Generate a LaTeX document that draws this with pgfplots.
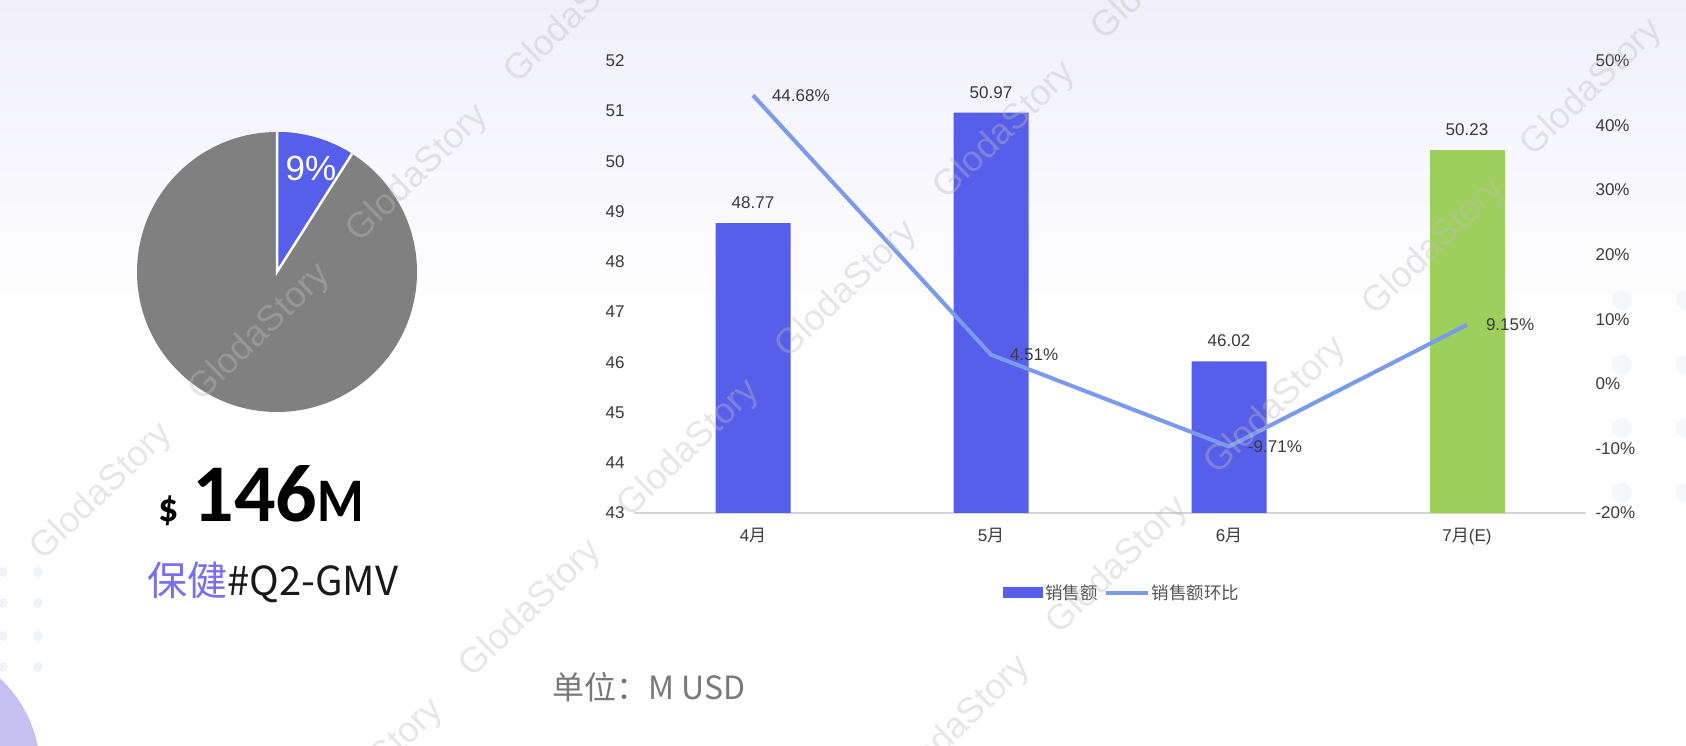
\documentclass[border=0pt]{standalone}
\usepackage{pgfplots}
\usepackage{pgfplotstable}
\pgfplotsset{compat=1.18}
\usepackage{fontspec}
\setmainfont{Liberation Sans}
\newfontfamily\cjk{Noto Sans CJK SC}
\newfontfamily\carlito{Carlito}
\definecolor{barblue}{RGB}{86,94,234}
\definecolor{bargreen}{RGB}{158,206,92}
\definecolor{lineblue}{RGB}{122,154,236}
\definecolor{piegray}{RGB}{128,128,128}
\definecolor{txt}{RGB}{58,58,58}
\definecolor{legtxt}{RGB}{85,85,85}
\definecolor{axisgray}{RGB}{212,212,212}
\definecolor{lav}{RGB}{240,239,251}
\definecolor{circpurple}{RGB}{198,192,240}
\definecolor{dotl}{RGB}{241,241,250}
\definecolor{dotr}{RGB}{245,247,251}
\definecolor{purpletxt}{RGB}{120,110,240}
\definecolor{unitgray}{RGB}{120,120,120}
\definecolor{wm}{RGB}{190,190,190}

\pgfplotstableread{
x y
0 48.77
1 50.97
2 46.02
}\salesA
\pgfplotstableread{
x y
3 50.23
}\salesE
\pgfplotstableread{
x y
0 44.68
1 4.51
2 -9.71
3 9.15
}\mom
\def\pieshare{9}

\begin{document}
\begin{tikzpicture}[x=1pt,y=1pt]
\path[use as bounding box] (0,0) rectangle (1686,746);
\begin{scope}
\clip (0,0) rectangle (1686,746);
\fill[white] (0,0) rectangle (1686,746);
\shade[top color=lav, bottom color=white] (0,420) rectangle (1686,746);
\fill[circpurple] (-85,-24) circle (125);
\foreach \yy in {174,143,110,79} {
  \fill[dotl] (3,\yy) circle (5);
  \fill[dotl] (38,\yy) circle (5);
}
\foreach \yy in {446,381,318,253} {
  \fill[dotr] (1622,\yy) circle (10);
  \fill[dotr] (1686,\yy) circle (10);
}
\end{scope}

% pie
\pgfmathsetmacro\endang{90-3.6*\pieshare}
\begin{axis}[at={(277pt,474pt)}, anchor=center, scale only axis,
  width=280pt, height=280pt, xmin=-1, xmax=1, ymin=-1, ymax=1,
  hide axis, clip=false]
\fill[piegray] (axis cs:0,0) circle[radius=1];
\fill[barblue] (axis cs:0,0) -- (axis cs:0,1) arc[start angle=90, end angle=\endang, radius=1] -- cycle;
\draw[white, line width=2.5pt] (axis cs:0,1) -- (axis cs:0,0) -- (axis cs:{cos(\endang)},{sin(\endang)});
\node[white, font=\fontsize{35}{35}\selectfont] at (axis cs:0.243,0.743) {\pieshare\%};
\end{axis}

% bars
\begin{axis}[at={(634pt,233pt)}, anchor=south west, scale only axis,
  width=952pt, height=452pt,
  xmin=-0.5, xmax=3.5, ymin=43, ymax=52,
  ytick={43,44,...,52}, xtick={0,1,2,3},
  xticklabels={4{\cjk 月},5{\cjk 月},6{\cjk 月},7{\cjk 月}(E)},
  axis x line*=bottom, axis y line*=left,
  y axis line style={draw=none},
  x axis line style={draw=axisgray, line width=2pt, -},
  major tick length=0pt, tick style={draw=none},
  ticklabel style={font=\fontsize{17}{17}\selectfont, text=txt},
  /pgf/number format/assume math mode=true,
  xticklabel style={yshift=-12pt},
  yticklabel style={xshift=-6pt},
  legend style={at={(0.5126,-0.177)}, anchor=center, draw=none, fill=none,
    legend columns=2, font=\cjk\fontsize{17.5}{17.5}\selectfont, text=legtxt,
    /tikz/every even column/.append style={column sep=4pt}},
]
\addplot[ybar, bar width=75pt, bar shift=0pt, fill=barblue, draw=none,
  nodes near coords={\pgfmathprintnumber[fixed,fixed zerofill,precision=2]{\pgfplotspointmeta}},
  every node near coord/.append style={font=\fontsize{17}{17}\selectfont, text=txt, anchor=south, inner sep=0pt, yshift=14pt},
  legend image code/.code={\fill[barblue] (0pt,-5.5pt) rectangle (40pt,5.5pt);}]
  table[x=x,y=y] {\salesA};
\addlegendentry{销售额}
\addplot[ybar, bar width=75pt, bar shift=0pt, fill=bargreen, draw=none, forget plot,
  nodes near coords={\pgfmathprintnumber[fixed,fixed zerofill,precision=2]{\pgfplotspointmeta}},
  every node near coord/.append style={font=\fontsize{17}{17}\selectfont, text=txt, anchor=south, inner sep=0pt, yshift=14pt}]
  table[x=x,y=y] {\salesE};
\addlegendimage{lineblue, line width=4pt, legend image code/.code={\draw[lineblue, line width=4pt] (0pt,0pt) -- (42pt,0pt);}}
\addlegendentry{销售额环比}
\end{axis}

% line (right axis)
\begin{axis}[at={(634pt,233pt)}, anchor=south west, scale only axis,
  width=952pt, height=452pt,
  xmin=-0.5, xmax=3.5, ymin=-20, ymax=50,
  ytick={-20,-10,...,50},
  axis y line*=right, axis x line=none,
  y axis line style={draw=none},
  major tick length=0pt, tick style={draw=none},
  ticklabel style={font=\fontsize{17}{17}\selectfont, text=txt},
  /pgf/number format/assume math mode=true,
  yticklabel={\pgfmathprintnumber{\tick}\%},
  yticklabel style={xshift=6pt, anchor=west},
]
\addplot[lineblue, line width=4pt,
  nodes near coords={\pgfmathprintnumber[fixed,fixed zerofill,precision=2]{\pgfplotspointmeta}\%},
  every node near coord/.append style={font=\fontsize{17}{17}\selectfont, text=txt, anchor=west, inner sep=0pt, xshift=17pt}]
  table[x=x,y=y] {\mom};
\end{axis}

% texts
\node[anchor=base west, inner sep=0pt] at (158,224)
  {\carlito\bfseries\fontsize{40}{40}\selectfont\$\hspace{14pt}\fontsize{82}{82}\selectfont 146\fontsize{62}{62}\selectfont\scalebox{0.86}[1]{M}};
\node[anchor=base west, inner sep=0pt] at (147,150)
  {\cjk\fontsize{40}{40}\selectfont\textcolor{purpletxt}{保健}\textcolor{black!90}{\#Q2-GMV}};
\node[anchor=base west, inner sep=0pt] at (552,46)
  {\cjk\fontsize{32}{32}\selectfont\color{unitgray}单位：M USD};

% watermarks
\begin{scope}
\clip (0,0) rectangle (1686,746);
\foreach \wx/\wy in {260/413, 847/456, 1434/499, 418/572, 1005/615, 1592/658, 576/731, 1163/774, 102/254, 689/297, 1276/340, 531/137, 1118/180, 373/-22, 960/21} {
  \node[rotate=44, text=wm, text opacity=0.38, font=\fontsize{36}{36}\selectfont] at (\wx,\wy) {GlodaStory};
}
\end{scope}
\end{tikzpicture}
\end{document}
